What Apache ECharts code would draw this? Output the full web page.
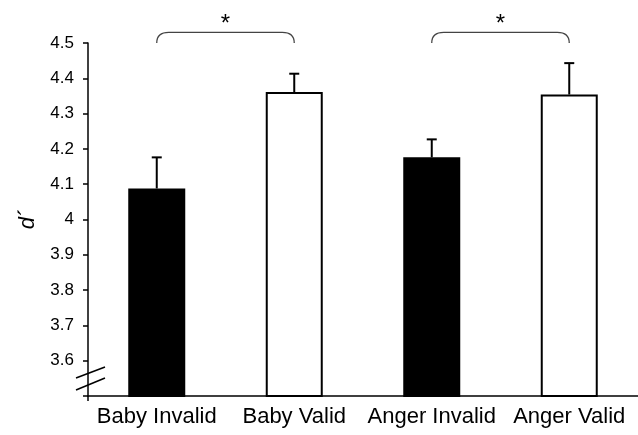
<!DOCTYPE html>
<html>
<head>
<meta charset="utf-8">
<script src="https://cdn.jsdelivr.net/npm/echarts@6/dist/echarts.min.js"></script>
<style>
html,body{margin:0;padding:0;background:#fff;}
#chart{width:638px;height:435px;}
</style>
</head>
<body>
<div id="chart"></div>
<script>
// 数据
var categories = ['Baby Invalid', 'Baby Valid', 'Anger Invalid', 'Anger Valid'];
var means = [4.088, 4.361, 4.176, 4.354];
var errors = [0.088, 0.052, 0.051, 0.089];
var barColors = ['#000', '#fff', '#000', '#fff'];
var pairs = [[0, 1], [2, 3]];
var yTicks = ['3.5', '3.6', '3.7', '3.8', '3.9', '4', '4.1', '4.2', '4.3', '4.4', '4.5'];

var font = 'Liberation Sans, Arial, sans-serif';
var myChart = echarts.init(document.getElementById('chart'));

var barData = means.map(function (v, i) {
    return {value: v, itemStyle: {color: barColors[i]}};
});
var errData = means.map(function (v, i) {
    return [i, v, errors[i]];
});

//误差线
function renderError(params, api) {
    var base = api.coord([api.value(0), api.value(1)]);
    var top = api.coord([api.value(0), api.value(1) + api.value(2)]);
    var st = {stroke: '#000', lineWidth: 2};
    return {
        type: 'group',
        children: [
            {type: 'line', shape: {x1: base[0], y1: base[1], x2: top[0], y2: top[1]}, style: st},
            {type: 'line', shape: {x1: top[0] - 5, y1: top[1], x2: top[0] + 5, y2: top[1]}, style: st}
        ]
    };
}

//显著性括号
function renderBracket(params, api) {
    var a = api.coord([api.value(0), 4.5]);
    var b = api.coord([api.value(1), 4.5]);
    var t = api.coord([api.value(0), 4.53]);
    var star = api.coord([api.value(0), 4.552]);
    var r = 12;
    var d = 'M' + a[0] + ' ' + a[1] +
        ' Q' + a[0] + ' ' + t[1] + ' ' + (a[0] + r) + ' ' + t[1] +
        ' L' + (b[0] - r) + ' ' + t[1] +
        ' Q' + b[0] + ' ' + t[1] + ' ' + b[0] + ' ' + b[1];
    return {
        type: 'group',
        children: [
            {type: 'path', shape: {pathData: d}, style: {stroke: '#444', lineWidth: 1.3, fill: null}},
            {type: 'text', style: {text: '*', x: (a[0] + b[0]) / 2, y: star[1], align: 'center', verticalAlign: 'middle',
                fontSize: 24, fontFamily: font, fill: '#000'}}
        ]
    };
}

//坐标轴断裂
function renderBreak(params, api) {
    var ax = params.coordSys.x;
    var b = params.coordSys.y + params.coordSys.height;
    var st = {stroke: '#000', lineWidth: 1.5};
    return {
        type: 'group',
        children: [
            {type: 'line', shape: {x1: ax - 12, y1: b - 18, x2: ax + 17, y2: b - 29}, style: st},
            {type: 'line', shape: {x1: ax - 12, y1: b - 6, x2: ax + 17, y2: b - 18}, style: st},
            {type: 'line', shape: {x1: ax, y1: b, x2: ax, y2: b + 5}, style: st}
        ]
    };
}

var option = {
    animation: false,
    backgroundColor: '#fff',
    grid: {left: 88, right: -2, top: 43, bottom: 39},
    xAxis: {
        type: 'category',
        data: categories,
        axisLine: {lineStyle: {color: '#000', width: 1.5}},
        axisTick: {show: false},
        axisLabel: {color: '#000', fontSize: 22, fontFamily: font, margin: 10, interval: 0, hideOverlap: false}
    },
    yAxis: {
        type: 'value',
        min: 3.5,
        max: 4.5,
        interval: 0.1,
        name: 'd\u00B4',
        nameLocation: 'middle',
        nameGap: 49,
        nameTextStyle: {color: '#000', fontSize: 22, fontStyle: 'italic', fontFamily: font},
        splitLine: {show: false},
        axisLine: {show: true, lineStyle: {color: '#000', width: 1.5}},
        axisTick: {show: true, length: 5, lineStyle: {color: '#000', width: 1.5}},
        axisLabel: {
            color: '#000', fontSize: 17, fontFamily: font, margin: 14,
            formatter: function (v) {
                var i = Math.round((v - 3.5) * 10);
                return i === 0 ? '' : yTicks[i];
            }
        }
    },
    series: [
        {
            type: 'bar',
            data: barData,
            barWidth: 57,
            itemStyle: {borderColor: '#000', borderWidth: 2}
        },
        {
            type: 'custom',
            renderItem: renderError,
            data: errData,
            z: 5
        },
        {
            type: 'custom',
            renderItem: renderBracket,
            data: pairs,
            clip: false,
            z: 5
        },
        {
            type: 'custom',
            renderItem: renderBreak,
            data: [[0, 3.5]],
            clip: false,
            z: 6
        }
    ]
};
myChart.setOption(option);
</script>
</body>
</html>
